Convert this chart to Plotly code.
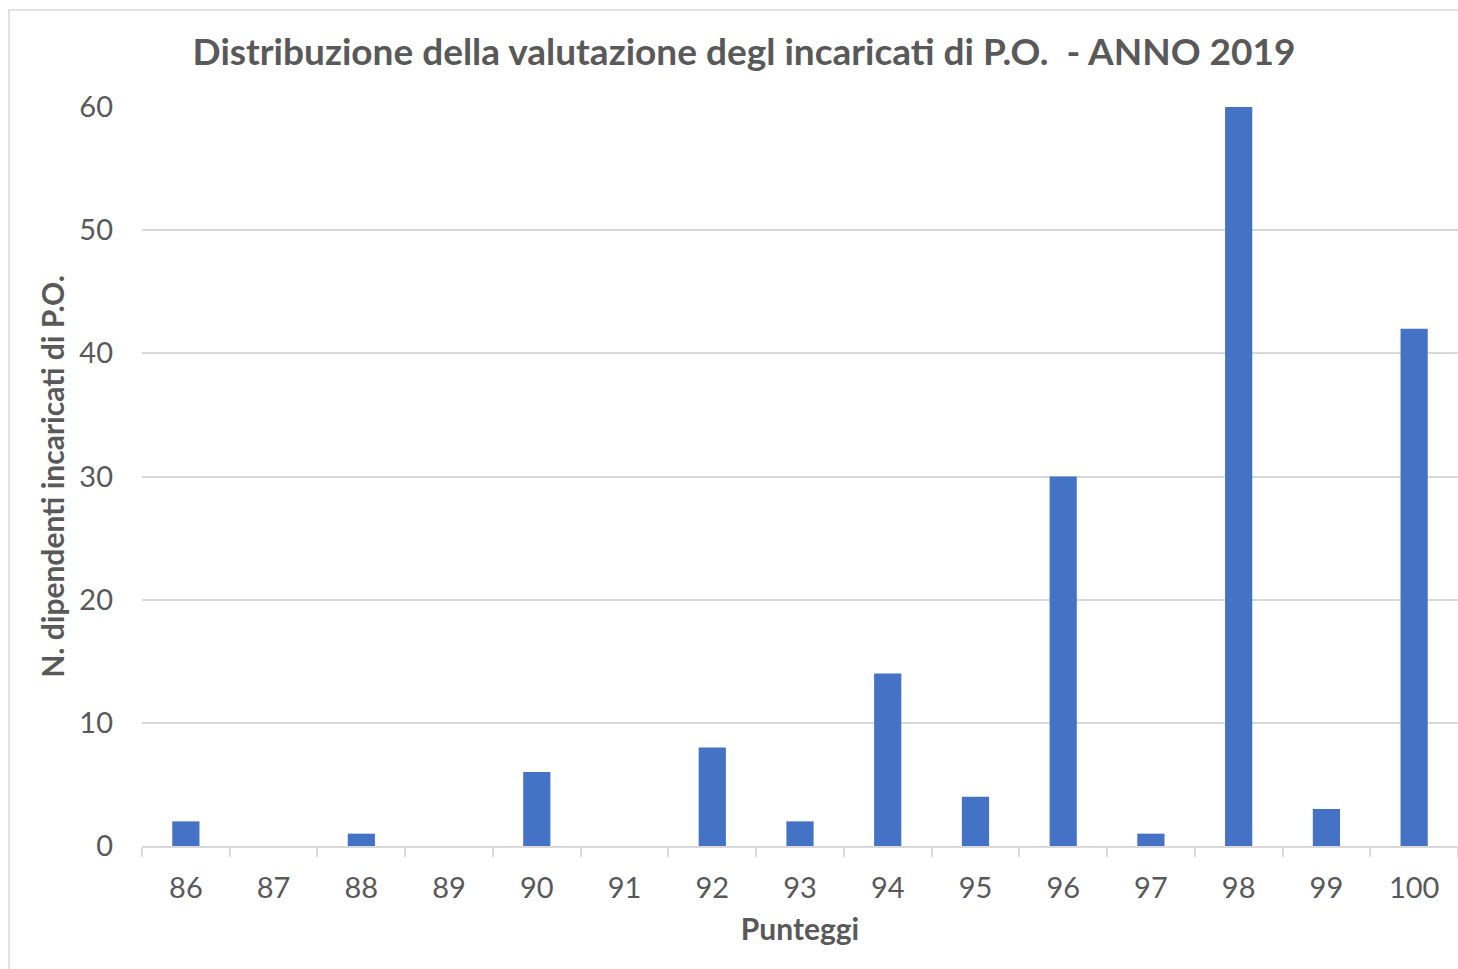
import plotly.graph_objects as go

categories = ["86", "87", "88", "89", "90", "91", "92", "93", "94", "95", "96", "97", "98", "99", "100"]
counts = [2, 0, 1, 0, 6, 0, 8, 2, 14, 4, 30, 1, 60, 3, 42]
y_ticks = [0, 10, 20, 30, 40, 50, 60]

title_text = "Distribuzione della valutazione degl incaricati di P.O.  - ANNO 2019"
x_title = "Punteggi"
y_title = "N. dipendenti incaricati di P.O."

FONT = "Lato, 'Open Sans', sans-serif"
TXT = "#595959"
GRID = "#d9d9d9"

fig = go.Figure(
    go.Bar(x=categories, y=counts, marker=dict(color="#4472C4", line=dict(width=0)))
)

W, H = 1458, 969
L, R, T, B = 142, 0, 107, 123
pw = W - L - R
ph = H - T - B

fig.update_layout(
    width=W, height=H,
    margin=dict(l=L, r=R, t=T, b=B, autoexpand=False),
    paper_bgcolor="white", plot_bgcolor="white",
    bargap=0.69,
    showlegend=False,
    font=dict(family=FONT, color=TXT),
    title=dict(text="<b>" + title_text + "</b>", x=744 / W, xanchor="center", xref="container",
               y=1 - 52 / H, yanchor="middle", yref="container",
               font=dict(size=37, color=TXT, family=FONT)),
    xaxis=dict(
        type="category", showgrid=False, showline=True, linecolor=GRID, linewidth=2,
        ticks="outside", tickson="boundaries", ticklen=9, tickcolor=GRID, tickwidth=2,
        tickfont=dict(size=29, color=TXT, family=FONT), ticklabelstandoff=15,
        title=dict(text="<b>" + x_title + "</b>", font=dict(size=30, color=TXT, family=FONT), standoff=16),
    ),
    yaxis=dict(
        range=[0, 60], tickvals=y_ticks, showgrid=True, gridcolor=GRID, gridwidth=1.5,
        zeroline=False, showline=False, ticks="",
        tickfont=dict(size=29, color=TXT, family=FONT), ticklabelstandoff=28,
        title=dict(text="<b>" + y_title + "</b>", font=dict(size=30, color=TXT, family=FONT), standoff=5),
    ),
)

# chart area border (only top and left visible in the frame)
x_left = (9 - L) / pw
y_top = (H - B - 10) / ph
fig.add_shape(type="rect", xref="paper", yref="paper", x0=x_left, x1=1.2, y0=-0.5, y1=y_top,
              line=dict(color=GRID, width=1.5), fillcolor="rgba(0,0,0,0)", layer="below")

fig.write_html("out.html", config={"displayModeBar": False},
               post_script="document.body.style.margin='0';document.body.style.overflow='hidden';")
